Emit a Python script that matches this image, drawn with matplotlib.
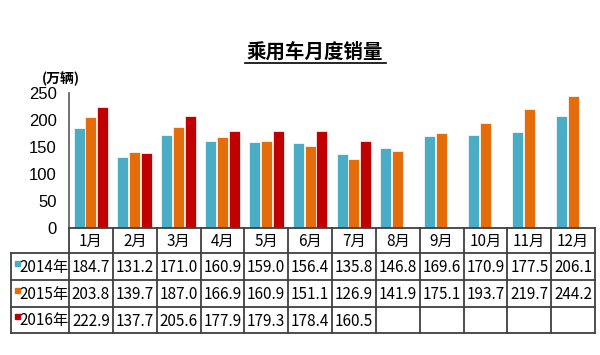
import numpy as np
import matplotlib.pyplot as plt
from matplotlib.patches import Rectangle

plt.rcParams['font.family'] = ['Noto Sans CJK SC', 'DejaVu Sans']

months = ['1月', '2月', '3月', '4月', '5月', '6月', '7月', '8月', '9月', '10月', '11月', '12月']
years = ['2014年', '2015年', '2016年']
sales_2014 = [184.7, 131.2, 171.0, 160.9, 159.0, 156.4, 135.8, 146.8, 169.6, 170.9, 177.5, 206.1]
sales_2015 = [203.8, 139.7, 187.0, 166.9, 160.9, 151.1, 126.9, 141.9, 175.1, 193.7, 219.7, 244.2]
sales_2016 = [222.9, 137.7, 205.6, 177.9, 179.3, 178.4, 160.5]
colors = ['#4BACC6', '#E46C0A', '#C00000']

W, H = 600, 355
fig = plt.figure(figsize=(6, 3.55), dpi=100)

# pixel layout
x0, x1 = 69, 595
y_top, y_zero = 92.5, 227.5
ax = fig.add_axes([x0 / W, 1 - y_zero / H, (x1 - x0) / W, (y_zero - y_top) / H])

series = [sales_2014, sales_2015, sales_2016]
bw = 0.25
offs = [-0.27, 0.0, 0.27]
for s, c, o in zip(series, colors, offs):
    x = np.arange(len(s)) + o
    ax.bar(x, s, width=bw, color=c, edgecolor='white', linewidth=0.5, zorder=2)

ax.set_xlim(-0.5, 11.5)
ax.set_ylim(0, 250)
ax.set_yticks(range(0, 251, 50))
ax.set_xticks([])
ax.tick_params(axis='y', length=0, pad=9, labelsize=12)
for lab in ax.get_yticklabels():
    lab.set_family(['Liberation Sans Narrow', 'Liberation Sans', 'DejaVu Sans'])
for sp in ['top', 'right', 'bottom']:
    ax.spines[sp].set_visible(False)
ax.spines['left'].set_color('#595959')
ax.spines['left'].set_linewidth(1.2)

# title and unit
fig.text(315 / W, 1 - 52 / H, '乘用车月度销量', ha='center', va='center',
         fontsize=14, fontweight='bold')
fig.add_artist(plt.Line2D([245 / W, 386 / W], [1 - 62.5 / H, 1 - 62.5 / H], color='black', lw=1.2))
fig.text(42 / W, 1 - 79 / H, '(万辆)', ha='left', va='center', fontsize=10, fontweight='bold')

# table
tb = fig.add_axes([0, 0, 1, 1])
tb.set_xlim(0, W)
tb.set_ylim(H, 0)
tb.axis('off')
tb.patch.set_alpha(0)

lc = '#404040'
cw = (x1 - x0) / 12
rows_y = [227.5, 253, 280, 307, 333]
lx = 11
tb.plot([x0, x1], [rows_y[0], rows_y[0]], color=lc, lw=1.3)
for yy in rows_y[1:]:
    tb.plot([lx, x1], [yy, yy], color=lc, lw=1.3)
tb.plot([lx, lx], [rows_y[1], rows_y[-1]], color=lc, lw=1.3)
for i in range(13):
    xx = x0 + i * cw
    tb.plot([xx, xx], [rows_y[0], rows_y[-1]], color=lc, lw=1.3)

for i, m in enumerate(months):
    tb.text(x0 + (i + 0.5) * cw, (rows_y[0] + rows_y[1]) / 2 + 1, m, ha='center', va='center',
            fontsize=11)

for r, (yr, s, c) in enumerate(zip(years, series, colors)):
    yc = (rows_y[r + 1] + rows_y[r + 2]) / 2 + 1
    tb.add_patch(Rectangle((15, yc - 7), 5, 5, color=c))
    tb.text(44, yc, yr, ha='center', va='center', fontsize=11)
    for i, v in enumerate(s):
        tb.text(x0 + (i + 0.5) * cw, yc, f'{v:.1f}', ha='center', va='center', fontsize=11)

fig.savefig('out.png', dpi=100)
